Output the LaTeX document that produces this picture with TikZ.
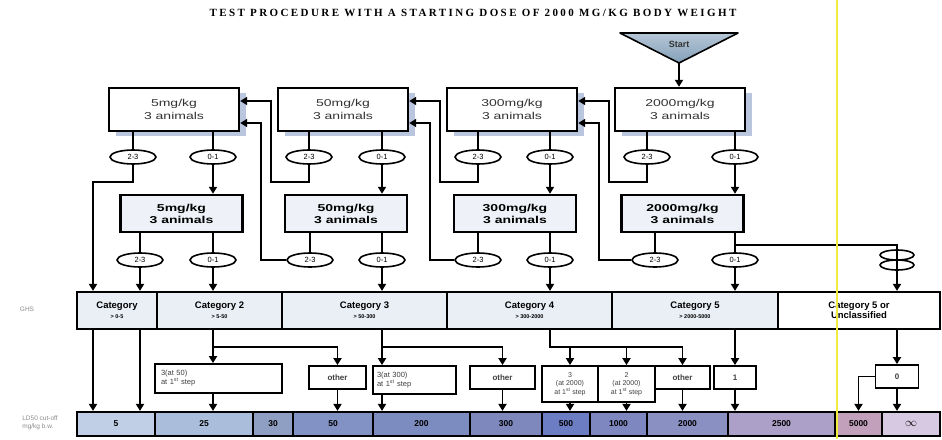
\documentclass[tikz,border=0pt]{standalone}
\usepackage{fontspec}
\setmainfont{Liberation Sans}
\newfontfamily\titlefont[LetterSpace=22]{Liberation Serif}
\newfontfamily\widefont[FakeStretch=1.4]{Liberation Sans}
\usetikzlibrary{arrows.meta}
\usetikzlibrary{shapes.geometric, shadows}
\usetikzlibrary{calc, math}
\definecolor{shadowblue}{RGB}{186,198,222}
\definecolor{boxblue}{RGB}{238,242,248}
\definecolor{catblue}{RGB}{234,239,246}
\definecolor{startblue}{RGB}{132,160,186}
\definecolor{scanyellow}{RGB}{240,236,60}
\definecolor{cutA}{RGB}{192,207,230}
\definecolor{cutB}{RGB}{170,190,219}
\definecolor{cutC}{RGB}{143,159,196}
\definecolor{cutD}{RGB}{131,146,197}
\definecolor{cutE}{RGB}{125,140,192}
\definecolor{cutF}{RGB}{127,136,188}
\definecolor{cutG}{RGB}{108,125,196}
\definecolor{cutH}{RGB}{126,135,191}
\definecolor{cutI}{RGB}{138,144,194}
\definecolor{cutJ}{RGB}{172,160,200}
\definecolor{cutK}{RGB}{194,160,188}
\definecolor{cutL}{RGB}{216,201,226}
\newcommand{\catrange}[1]{{\fontsize{5.5}{6}\selectfont #1}}

\tikzset{
  wire/.style={line width=1.8pt},
  arr/.style={wire,-{Triangle[length=7pt,width=8pt]}},
  dosebox/.style={draw, line width=2.4pt, fill=white, minimum width=130, minimum height=43,
    align=center, text=black!80, font=\widefont\fontsize{10}{13}\selectfont,
    drop shadow={shadow xshift=7pt,shadow yshift=-5pt,fill=shadowblue,opacity=1}},
  dosebox2/.style={draw, line width=2.4pt, fill=boxblue, minimum width=122, minimum height=37,
    align=center, font=\widefont\bfseries\fontsize{10}{12}\selectfont},
  count/.style={draw, ellipse, line width=1.6pt, fill=white, minimum width=46, minimum height=14,
    inner sep=0pt, font=\fontsize{7.5}{8}\selectfont},
  catcell/.style={draw, line width=2.2pt, fill=catblue, minimum height=37, align=center,
    font=\bfseries\fontsize{9.5}{10}\selectfont},
  outbox/.style={draw, line width=1.8pt, fill=white, minimum height=23, align=center,
    inner sep=1pt, text=black!75, font=\fontsize{7.5}{9}\selectfont},
  otherbox/.style={outbox, font=\bfseries\fontsize{8}{9}\selectfont},
  cutcell/.style={draw, line width=2.2pt, minimum height=24, font=\bfseries\fontsize{8.5}{9}\selectfont},
}

\begin{document}
\begin{tikzpicture}[x=1pt,y=-1pt]
\tikzmath{
\ya=109.5;
\yb=213.5;
\yca=157;
\ycb=260;
\yg=310.5;
\yl=424;
}
\useasboundingbox (0,0) rectangle (942,439);
\fill[white] (0,0) rectangle (942,439);

\node[font=\titlefont\bfseries\fontsize{11}{12}\selectfont] (title) at (473,13)
  {TEST PROCEDURE WITH A STARTING DOSE OF 2000 MG/KG BODY WEIGHT};

% start
\coordinate (tip) at (679,63);
\draw[line width=1.6pt, top color=startblue!60!white, bottom color=startblue, line join=round]
  (620,33) -- (738,33) -- (tip) -- cycle;
\node[font=\bfseries\fontsize{9}{10}\selectfont, text=black!80] (start) at (679,44) {Start};

% doses
\node[dosebox] (d5a) at (174,\ya) {5mg/kg\\3 animals};
\node[dosebox] (d50a) at (343,\ya) {50mg/kg\\3 animals};
\node[dosebox] (d300a) at (512,\ya) {300mg/kg\\3 animals};
\node[dosebox] (d2000a) at (680,\ya) {2000mg/kg\\3 animals};

\node[dosebox2] (d5b) at (181.5,\yb) {5mg/kg\\3 animals};
\node[dosebox2] (d50b) at (346,\yb) {50mg/kg\\3 animals};
\node[dosebox2] (d300b) at (515,\yb) {300mg/kg\\3 animals};
\node[dosebox2] (d2000b) at (682.5,\yb) {2000mg/kg\\3 animals};

\draw[arr] (tip) -- (tip |- d2000a.north);

% deaths
\foreach \dose/\l/\r in {5/133/213, 50/309/382, 300/478/550, 2000/647/735} {
  \node[count] (c\dose a23) at (\l,\yca) {2-3};
  \node[count] (c\dose a01) at (\r,\yca) {0-1};
  \draw[wire] (c\dose a23.north) -- (c\dose a23.north |- d\dose a.south);
  \draw[wire] (c\dose a01.north) -- (c\dose a01.north |- d\dose a.south);
  \draw[arr] (c\dose a01.south) -- (c\dose a01.south |- d\dose b.north);
}
\foreach \dose/\l/\r in {5/140/213, 50/310/382, 300/478/550, 2000/655/735} {
  \node[count] (c\dose b23) at (\l,\ycb) {2-3};
  \node[count] (c\dose b01) at (\r,\ycb) {0-1};
  \draw[wire] (c\dose b23.north) -- (c\dose b23.north |- d\dose b.south);
  \draw[wire] (c\dose b01.north) -- (c\dose b01.north |- d\dose b.south);
}
\foreach \dose/\prev in {50/5, 300/50, 2000/300} {
  \draw[arr] (c\dose a23.south) |- ($(d\prev a.east)+(31,72.5)$) |- ($(d\prev a.east)+(0,-8.5)$);
  \draw[arr] (c\dose b23.west) -| ($(d\prev a.east)+(21,13.5)$) -- ($(d\prev a.east)+(0,13.5)$);
}

% GHS
\node[catcell, minimum width=80] (cat1) at (117,\yg) {Category\\\catrange{> 0-5}};
\node[catcell, minimum width=125] (cat2) at (219.5,\yg) {Category 2\\\catrange{> 5-50}};
\node[catcell, minimum width=165] (cat3) at (364.5,\yg) {Category 3\\\catrange{> 50-300}};
\node[catcell, minimum width=165] (cat4) at (529.5,\yg) {Category 4\\\catrange{> 300-2000}};
\node[catcell, minimum width=166] (cat5) at (695,\yg) {Category 5\\\catrange{> 2000-5000}};
\node[catcell, minimum width=162, fill=white] (cat6) at (859,\yg) {Category 5 or\\Unclassified};
\node[font=\fontsize{6.5}{7}\selectfont, text=black!45] (ghs) at (27,309) {GHS};

\coordinate (k1) at (93,182);
\draw[arr] (c5a23.south) |- (k1) -- (k1 |- cat1.north);
\draw[arr] (c5b23.south) -- (c5b23.south |- cat1.north);
\draw[arr] (c5b01.south) -- (c5b01.south |- cat2.north);
\draw[arr] (c50b01.south) -- (c50b01.south |- cat3.north);
\draw[arr] (c300b01.south) -- (c300b01.south |- cat4.north);
\draw[arr] (c2000b01.south) -- (c2000b01.south |- cat5.north);

\coordinate (tee) at (735,245);
\node[count, minimum width=34, minimum height=10, fill=none] (z0) at (897,255) {};
\node[count, minimum width=34, minimum height=10, fill=none] (z1) at (897,265) {};
\draw[arr] (tee) -| (z0 |- cat6.north);

% outcomes
\node[outbox, minimum width=127, minimum height=29, align=left, text width=115] (o50) at (218.5,378.5)
  {3(at 50)\\at 1\textsuperscript{st} step};
\node[otherbox, minimum width=57] (oth3) at (337.5,377.5) {other};
\node[outbox, minimum width=83, minimum height=28, align=left, text width=75] (o300) at (414.5,380)
  {3(at 300)\\at 1\textsuperscript{st} step};
\node[otherbox, minimum width=65] (oth4) at (502.5,377.5) {other};
\node[outbox, minimum width=56, minimum height=36, font=\fontsize{7}{8.5}\selectfont] (o2000a) at (570,384)
  {3\\(at 2000)\\at 1\textsuperscript{st} step};
\node[outbox, minimum width=57, minimum height=36, font=\fontsize{7}{8.5}\selectfont] (o2000b) at (626.5,384)
  {2\\(at 2000)\\at 1\textsuperscript{st} step};
\node[otherbox, minimum width=55] (oth5) at (682.5,377.5) {other};
\node[otherbox, minimum width=42] (one) at (735,377.5) {1};
\node[otherbox, minimum width=43] (zero) at (897,376.5) {0};

% LD50 cut-off values
\foreach \l/\r/\v/\c [count=\i] in {77/155/5/cutA, 155/253/25/cutB, 253/293/30/cutC,
    293/373/50/cutD, 373/470/200/cutE, 470/542/300/cutF, 542/590/500/cutG, 590/647/1000/cutH,
    647/728/2000/cutI, 728/835/2500/cutJ, 835/882/5000/cutK, 882/940/{\large$\infty$}/cutL}
  \node[cutcell, fill=\c, minimum width=\r-\l] (cut\i) at ({(\l+\r)/2},\yl) {\v};
\node[align=left, font=\fontsize{6.5}{7.5}\selectfont, text=black!45] (ldlabel) at (40,423)
  {LD50 cut-off\\mg/kg b.w.};

\coordinate (fork) at (0,347);
\draw[arr] (k1 |- cat1.south) -- (k1 |- cut1.north);
\draw[arr] (c5b23 |- cat1.south) -- (c5b23 |- cut1.north);
\draw[arr] (c5b01 |- cat2.south) -- (c5b01 |- o50.north);
\draw[arr] (c5b01 |- fork) -| (oth3.north);
\draw[arr] (c5b01 |- o50.south) -- (c5b01 |- cut2.north);
\draw[arr] (oth3.south) -- (oth3.south |- cut4.north);
\draw[arr] (c50b01 |- cat3.south) -- (c50b01 |- o300.north);
\draw[arr] (c50b01 |- fork) -| (oth4.north);
\draw[arr] (c50b01 |- o300.south) -- (c50b01 |- cut5.north);
\draw[arr] (oth4.south) -- (oth4.south |- cut6.north);
\draw[wire] (c300b01 |- cat4.south) |- (oth5.north |- fork);
\draw[arr] (o2000a.north |- fork) -- (o2000a.north);
\draw[arr] (o2000b.north |- fork) -- (o2000b.north);
\draw[arr] (oth5.north |- fork) -- (oth5.north);
\draw[arr] (o2000a.south) -- (o2000a.south |- cut7.north);
\draw[arr] (o2000b.south) -- (o2000b.south |- cut8.north);
\draw[arr] (oth5.south) -- (oth5.south |- cut9.north);
\draw[arr] (one.north |- cat5.south) -- (one.north);
\draw[arr] (one.south) -- (one.south |- cut10.north);
\draw[arr] (zero.north |- cat6.south) -- (zero.north);
\draw[arr] (zero.south) -- (zero.south |- cut12.north);
\draw[arr] (zero.west) -| (cut11.north);

\draw[scanyellow, line width=1.2pt] (837,0) -- (837,439);
\end{tikzpicture}
\end{document}
